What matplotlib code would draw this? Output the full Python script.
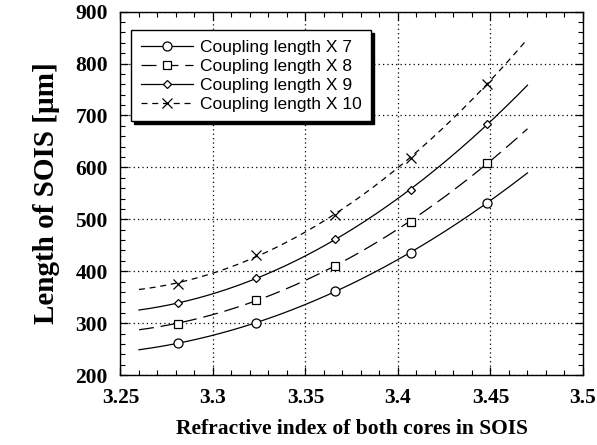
import numpy as np
import matplotlib
matplotlib.use("Agg")
import matplotlib.pyplot as plt
from matplotlib.ticker import MultipleLocator

# Data
x_index = [3.281, 3.323, 3.366, 3.407, 3.448]
len_x7 = [261, 301, 362, 435, 532]
len_x8 = [299, 345, 411, 495, 608]
len_x9 = [338, 387, 462, 556, 683]
len_x10 = [376, 432, 508, 619, 761]
labels = ["Coupling length X 7", "Coupling length X 8",
          "Coupling length X 9", "Coupling length X 10"]
fit_range = (3.26, 3.47)

serif = ["Liberation Serif", "DejaVu Serif"]

fig = plt.figure(figsize=(5.97, 4.45), dpi=100)
ax = fig.add_axes([0.2018, 0.157, 0.7747, 0.817])

styles = [
    dict(marker="o", ls="-", ms=6.5),
    dict(marker="s", ls=(0, (12, 5.5)), ms=6.2),
    dict(marker="D", ls="-", ms=4.3),
    dict(marker="x", ls=(0, (4.8, 3.8)), ms=7),
]
series = [len_x7, len_x8, len_x9, len_x10]
xf = np.linspace(fit_range[0], fit_range[1], 200)
handles = []
for ys, st, lab in zip(series, styles, labels):
    coef = np.polyfit(x_index, ys, 2)
    ax.plot(xf, np.polyval(coef, xf), color="black", lw=0.9, ls=st["ls"])
    ax.plot(x_index, ys, ls="none", marker=st["marker"], ms=st["ms"],
            mfc="white", mec="black", mew=0.9, color="black")
    h, = ax.plot([], [], color="black", lw=0.9, ls=st["ls"], marker=st["marker"],
                 ms=st["ms"], mfc="white", mec="black", mew=0.9, label=lab)
    handles.append(h)

ax.set_xlim(3.25, 3.5)
ax.set_ylim(200, 900)
ax.xaxis.set_major_locator(MultipleLocator(0.05))
ax.xaxis.set_minor_locator(MultipleLocator(0.01))
ax.yaxis.set_major_locator(MultipleLocator(100))
ax.yaxis.set_minor_locator(MultipleLocator(20))
ax.set_xticks([3.25, 3.3, 3.35, 3.4, 3.45, 3.5])
ax.set_xticklabels(["3.25", "3.3", "3.35", "3.4", "3.45", "3.5"])
ax.tick_params(which="both", direction="in", top=True, right=True, color="black")
ax.tick_params(which="major", length=6, width=0.9)
ax.tick_params(axis="x", which="major", pad=9)
ax.tick_params(axis="y", which="major", pad=9)
ax.tick_params(which="minor", length=3.5, width=0.8)
for lab in ax.get_xticklabels() + ax.get_yticklabels():
    lab.set_fontfamily(serif)
    lab.set_fontweight("bold")
    lab.set_fontsize(15.5)
for sp in ax.spines.values():
    sp.set_linewidth(1.0)
ax.grid(True, which="major", color="black", ls=(0, (1, 2.5)), lw=0.9)

ax.set_xlabel("Refractive index of both cores in SOIS", fontfamily=serif,
              fontweight="bold", fontsize=15.5, labelpad=8)
ax.set_ylabel("Length of SOIS [µm]", fontfamily=serif, fontweight="bold",
              fontsize=21, labelpad=11)

leg = ax.legend(handles=handles, loc="upper left", bbox_to_anchor=(0.023, 0.949),
                frameon=True, fancybox=False, edgecolor="black",
                shadow={"color": "black", "alpha": 1},
                prop={"family": ["Liberation Sans", "DejaVu Sans"], "size": 12.5},
                handlelength=3.0, handletextpad=0.4, labelspacing=0.22,
                borderpad=0.55, borderaxespad=0)
leg.get_frame().set_linewidth(1.0)
leg.get_frame().set_alpha(1)

fig.savefig("out.png", dpi=100)
